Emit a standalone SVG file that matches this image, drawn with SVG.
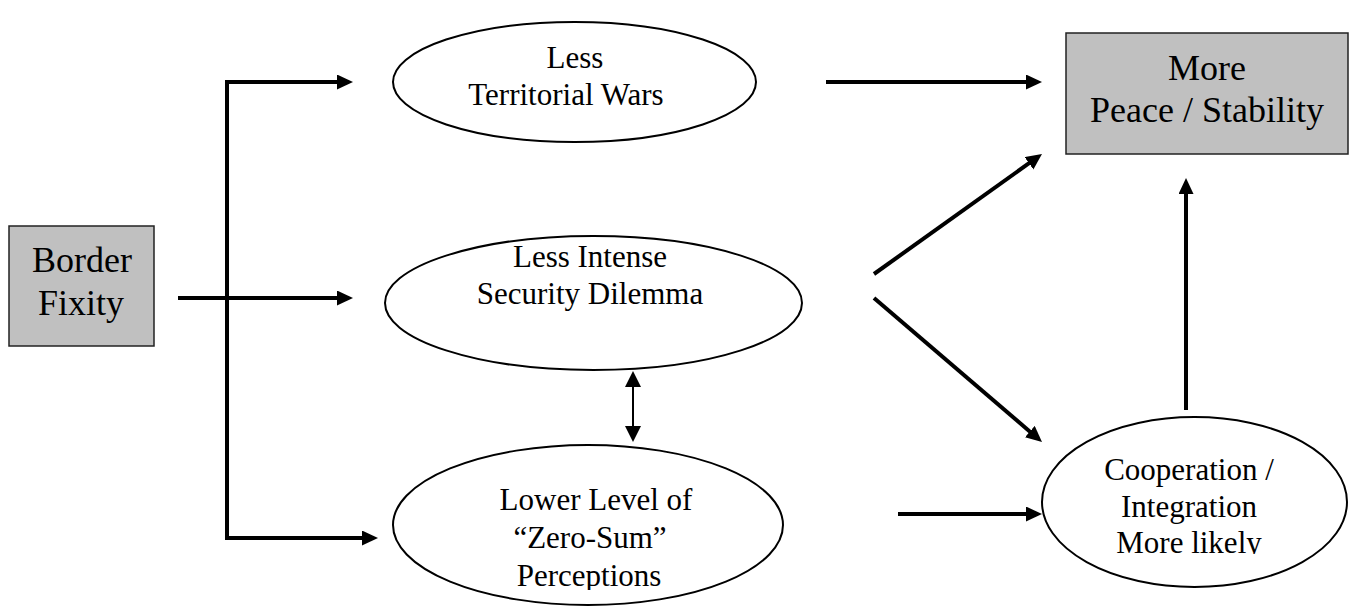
<svg xmlns="http://www.w3.org/2000/svg" width="1351" height="607" viewBox="0 0 1351 607">
<style>
.box{fill:#c0c0c0;stroke:#222;stroke-width:1.5}
.ell{fill:#fff;stroke:#000;stroke-width:2}
.t{fill:#000;text-anchor:middle;font-family:"Liberation Serif","Times New Roman",serif}
.tb{font-size:36px}
.te{font-size:31px}
.c{fill:none;stroke:#000;stroke-width:4}
.c2{fill:none;stroke:#000;stroke-width:2}
</style>
<defs>
<marker id="ah" markerUnits="userSpaceOnUse" markerWidth="17" markerHeight="16" refX="1" refY="7.5" orient="auto"><path d="M0,0 L16,7.5 L0,15 z" fill="#000"/></marker>
<marker id="ahs" markerUnits="userSpaceOnUse" markerWidth="17" markerHeight="18" refX="1" refY="8" orient="auto-start-reverse"><path d="M0,0 L16,8 L0,16 z" fill="#000"/></marker>
<clipPath id="clip3"><rect x="380" y="430" width="420" height="160"/></clipPath>
<clipPath id="clip4"><rect x="1030" y="400" width="321" height="154"/></clipPath>
</defs>
<g id="connectors">
<path class="c" d="M178,298 H338" marker-end="url(#ah)"/>
<path class="c" d="M227,300 V82 H338" marker-end="url(#ah)"/>
<path class="c" d="M227,296 V538 H363" marker-end="url(#ah)"/>
<path class="c" d="M826,82 H1027" marker-end="url(#ah)"/>
<path class="c" d="M874,274 L1029.8,162.7" marker-end="url(#ah)"/>
<path class="c" d="M874,298 L1030.6,432.2" marker-end="url(#ah)"/>
<path class="c" d="M898,514 H1027" marker-end="url(#ah)"/>
<path class="c" d="M1186,410 V193" marker-end="url(#ah)"/>
<path class="c2" d="M633,386 V427" marker-start="url(#ahs)" marker-end="url(#ahs)"/>
</g>
<g id="border-fixity">
<rect class="box" x="9" y="226" width="145" height="120"/>
<text class="t tb" x="82" y="272">Border</text>
<text class="t tb" x="81" y="315">Fixity</text>
</g>
<g id="less-territorial-wars">
<ellipse class="ell" cx="574.5" cy="82" rx="181.5" ry="60"/>
<text class="t te" x="575" y="68">Less</text>
<text class="t te" x="566" y="105">Territorial Wars</text>
</g>
<g id="less-intense-security-dilemma">
<ellipse class="ell" cx="593.5" cy="303" rx="208.5" ry="67"/>
<text class="t te" x="590" y="267">Less Intense</text>
<text class="t te" x="590" y="304">Security Dilemma</text>
</g>
<g id="lower-level-zero-sum">
<ellipse class="ell" cx="588" cy="525" rx="195" ry="80"/>
<g clip-path="url(#clip3)">
<text class="t te" x="596" y="510">Lower Level of</text>
<text class="t te" x="590" y="548">“Zero-Sum”</text>
<text class="t te" x="589" y="586">Perceptions</text>
</g>
</g>
<g id="more-peace-stability">
<rect class="box" x="1066" y="33" width="282" height="121"/>
<text class="t tb" x="1207" y="80">More</text>
<text class="t tb" x="1207" y="122">Peace / Stability</text>
</g>
<g id="cooperation-integration">
<ellipse class="ell" cx="1194.5" cy="502" rx="152.5" ry="85"/>
<g clip-path="url(#clip4)">
<text class="t te" x="1189" y="480">Cooperation /</text>
<text class="t te" x="1189" y="517">Integration</text>
<text class="t te" x="1189" y="553">More likely</text>
</g>
</g>
</svg>
